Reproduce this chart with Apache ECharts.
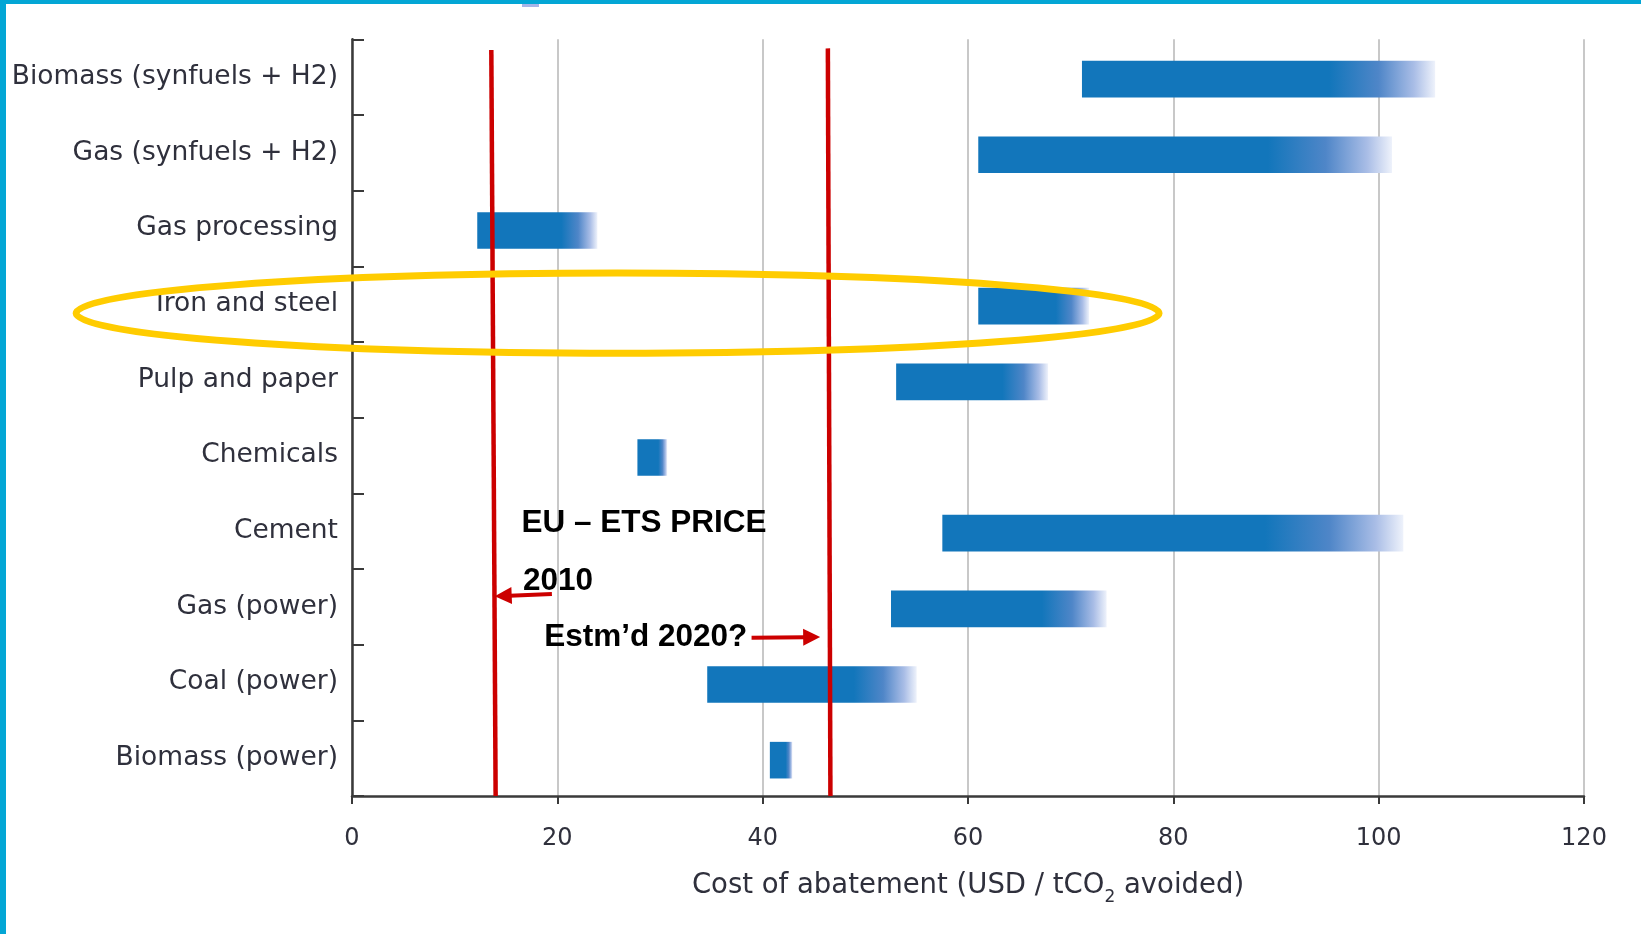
<!DOCTYPE html>
<html>
<head>
<meta charset="utf-8">
<script src="https://cdn.jsdelivr.net/npm/echarts@6/dist/echarts.min.js"></script>
<style>
html,body{margin:0;padding:0;background:#ffffff;}
#chart{width:1641px;height:934px;}
</style>
</head>
<body>
<div id="chart"></div>
<script>
// ---------- data ----------
const categories = [
  'Biomass (synfuels + H2)', 'Gas (synfuels + H2)', 'Gas processing', 'Iron and steel',
  'Pulp and paper', 'Chemicals', 'Cement', 'Gas (power)', 'Coal (power)', 'Biomass (power)'
];
const costLow  = [71.1, 61.0, 12.2, 61.0, 53.0, 27.8, 57.5, 52.5, 34.6, 40.7];
const costHigh = [105.5, 101.3, 23.9, 71.8, 67.8, 30.7, 102.4, 73.5, 55.0, 42.9];
const xTicks = [0, 20, 40, 60, 80, 100, 120];
const xAxisTitle = 'Cost of abatement (USD / tCO{sub|2} avoided)';

// annotations: x in USD/tCO2, y in category-slot units (0 = top of axis, 10 = x axis)
const priceLineTopX    = [13.57, 46.35];
const priceLineBottomX = [13.99, 46.60];
const priceLineTopY    = [0.14, 0.12];
const priceLineBottomY = [10.0, 10.0];
const noteTexts = ['EU \u2013 ETS PRICE', '2010', 'Estm\u2019d 2020?'];
const noteX = [16.5, 16.65, 18.72];
const noteY = [6.39, 7.16, 7.90];
const arrowTailX = [19.47, 38.92];
const arrowTailY = [7.33, 7.91];
const arrowTipX  = [13.9, 45.6];
const arrowTipY  = [7.36, 7.90];
const ellipseCenter = [25.87, 3.62];
const ellipseRadius = [52.74, 0.53];

// ---------- chart ----------
const chart = echarts.init(document.getElementById('chart'), null, {renderer: 'canvas'});
const labelColor = '#2f303c';
const barFill = new echarts.graphic.LinearGradient(0, 0, 1, 0, [
  {offset: 0, color: '#1276bb'},
  {offset: 0.70, color: '#1276bb'},
  {offset: 0.84, color: '#4f86c8'},
  {offset: 0.94, color: '#a9bde6'},
  {offset: 1, color: '#eef2fb'}
]);

const barData = categories.map((c, i) => [i, costLow[i], costHigh[i]]);

option = {
  animation: false,
  backgroundColor: '#ffffff',
  grid: {left: 352, right: 57, top: 39.3, bottom: 138, containLabel: false},
  xAxis: {
    type: 'value', min: xTicks[0], max: xTicks[xTicks.length - 1], interval: 20,
    axisLine: {show: true, onZero: false, lineStyle: {color: '#3a3a3a', width: 2.5}},
    axisTick: {show: true, length: 8, lineStyle: {color: '#3a3a3a', width: 2}},
    axisLabel: {fontSize: 24, fontFamily: 'DejaVu Sans', color: labelColor, margin: 31},
    splitLine: {show: true, lineStyle: {color: '#c8c8c8', width: 2}},
    name: xAxisTitle,
    nameLocation: 'middle',
    nameGap: 70,
    nameTextStyle: {
      fontSize: 27.5, fontFamily: 'DejaVu Sans', color: labelColor, lineHeight: 40,
      rich: {sub: {fontSize: 17, fontFamily: 'DejaVu Sans', color: labelColor, verticalAlign: 'bottom'}}
    }
  },
  yAxis: [{
    type: 'category', data: categories, inverse: true,
    axisLine: {show: true, onZero: false, lineStyle: {color: '#3a3a3a', width: 2.5}},
    axisTick: {show: true, inside: true, length: 12, lineStyle: {color: '#3a3a3a', width: 2}},
    axisLabel: {fontSize: 26.5, fontFamily: 'DejaVu Sans', color: labelColor, margin: 14, interval: 0},
    splitLine: {show: false}
  }, {
    type: 'value', min: 0, max: 10, inverse: true, show: false,
    axisLine: {show: false, onZero: false}, splitLine: {show: false}
  }],
  graphic: [
    {type: 'rect', shape: {x: 0, y: 0, width: 1641, height: 4}, style: {fill: '#03a6d5'}, z: 100},
    {type: 'rect', shape: {x: 0, y: 0, width: 6, height: 934}, style: {fill: '#03a6d5'}, z: 100},
    {type: 'rect', shape: {x: 522, y: 4, width: 17, height: 3}, style: {fill: '#a5b4e8'}, z: 100}
  ],
  series: [{
    type: 'custom',
    name: 'cost range',
    coordinateSystem: 'cartesian2d',
    xAxisIndex: 0, yAxisIndex: 0,
    data: barData,
    encode: {x: [1, 2], y: 0},
    z: 2,
    renderItem: function (params, api) {
      const cat = api.value(0);
      const p0 = api.coord([api.value(1), cat]);
      const p1 = api.coord([api.value(2), cat]);
      const band = api.size([0, 1])[1];
      const h = band * 0.484;
      return {
        type: 'rect',
        shape: {x: p0[0], y: p0[1] - h / 2 + 2, width: p1[0] - p0[0], height: h},
        style: {fill: barFill}
      };
    }
  }, {
    type: 'custom',
    name: 'annotations',
    coordinateSystem: 'cartesian2d',
    xAxisIndex: 0, yAxisIndex: 1,
    data: [[0, 0]],
    clip: false,
    silent: true,
    z: 5,
    renderItem: function (params, api) {
      const children = [];
      const red = '#cc0000';
      for (let i = 0; i < priceLineTopX.length; i++) {
        const a = api.coord([priceLineTopX[i], priceLineTopY[i]]);
        const b = api.coord([priceLineBottomX[i], priceLineBottomY[i]]);
        children.push({type: 'line', shape: {x1: a[0], y1: a[1], x2: b[0], y2: b[1]},
          style: {stroke: red, lineWidth: 4.5}});
      }
      for (let i = 0; i < arrowTailX.length; i++) {
        const t = api.coord([arrowTailX[i], arrowTailY[i]]);
        const p = api.coord([arrowTipX[i], arrowTipY[i]]);
        const dx = p[0] - t[0], dy = p[1] - t[1];
        const len = Math.sqrt(dx * dx + dy * dy);
        const ux = dx / len, uy = dy / len;
        const L = 17, W = 8.5;
        const bx = p[0] - ux * L, by = p[1] - uy * L;
        children.push({type: 'line', shape: {x1: t[0], y1: t[1], x2: bx + ux * 2, y2: by + uy * 2},
          style: {stroke: red, lineWidth: 4}});
        children.push({type: 'polygon', shape: {points: [
          [p[0], p[1]], [bx - uy * W, by + ux * W], [bx + uy * W, by - ux * W]
        ]}, style: {fill: red}});
      }
      for (let i = 0; i < noteTexts.length; i++) {
        const q = api.coord([noteX[i], noteY[i]]);
        children.push({type: 'text', style: {
          text: noteTexts[i], x: q[0], y: q[1], fill: '#000000',
          font: 'bold 31.5px "Liberation Sans", Arial, sans-serif',
          align: 'left', verticalAlign: 'middle'
        }});
      }
      const c = api.coord(ellipseCenter);
      const r = api.size(ellipseRadius);
      children.push({type: 'ellipse', shape: {cx: c[0], cy: c[1], rx: r[0], ry: r[1]},
        style: {fill: 'none', stroke: '#ffcc00', lineWidth: 7}, z2: 10});
      return {type: 'group', children: children};
    }
  }]
};
chart.setOption(option);
</script>
</body>
</html>
